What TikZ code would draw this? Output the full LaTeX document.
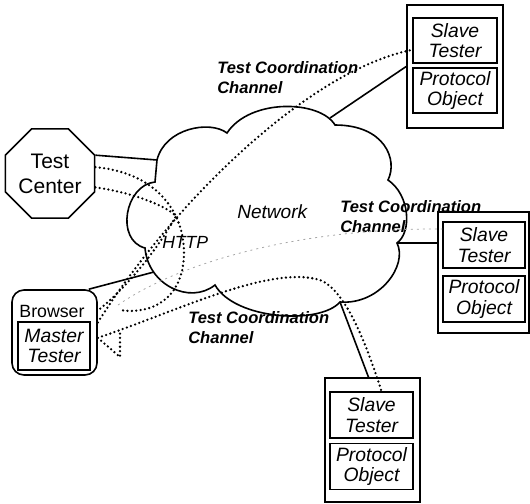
\documentclass[tikz,border=0pt]{standalone}
\usepackage{fontspec}
\setmainfont{Liberation Sans}
\usetikzlibrary{shapes.geometric}
\begin{document}
\begin{tikzpicture}[x=0.75pt,y=-0.75pt,
  solidline/.style={line width=1.2pt},
  dotline/.style={line width=1.9pt, dash pattern=on 0pt off 3.3pt, line cap=round},
  faintline/.style={line width=0.6pt, gray!70, dash pattern=on 1.5pt off 3pt},
  outerbox/.style={draw, line width=1.2pt, inner sep=0pt},
  innerbox/.style={draw, line width=1.1pt, inner sep=1pt, align=center, font=\fontsize{14.5pt}{15.5pt}\selectfont\itshape},
  chanlabel/.style={inner sep=0pt, anchor=north west, align=left, font=\fontsize{12.4pt}{15.5pt}\selectfont\bfseries\itshape},
]
\useasboundingbox (0,0) rectangle (530,503);

% cloud
\draw[line width=1.2pt] (155,182) .. controls (125,185) and (115,240) .. (145,248)
  .. controls (148,285) and (190,305) .. (215,285)
  .. controls (235,320) and (320,325) .. (340,302)
  .. controls (380,305) and (408,265) .. (397,243)
  .. controls (412,232) and (410,195) .. (388,180)
  .. controls (398,160) and (385,125) .. (335,125)
  .. controls (320,100) and (250,98) .. (227,133)
  .. controls (210,120) and (165,128) .. (157,160) -- cycle;
\coordinate (cTC) at (157,160);
\coordinate (cBR) at (154,272);
\coordinate (cS1) at (330,118);
\coordinate (cS2) at (397,243);
\coordinate (cS3) at (340,302);
\coordinate (tcend) at (120,310);
\coordinate (tri1) at (120,357);
\coordinate (tri2) at (120,329.5);
\coordinate (fstart) at (118,305);

% nodes
\node[regular polygon, regular polygon sides=8, draw, line width=1.2pt, minimum size=61.7pt, inner sep=0pt, align=center, font=\fontsize{15.75pt}{18.9pt}\selectfont] (tc) at (50,173.5) {Test\\Center};

\node[draw, line width=1.2pt, rounded corners=9pt, minimum width=63.75pt, minimum height=63.75pt] (br) at (54.5,332.5) {};
\node[anchor=base, inner sep=0pt, font=\fontsize{13.3pt}{16pt}\selectfont] (brt) at (52,317) {Browser};
\node[innerbox, minimum width=54pt, minimum height=36pt] (mt) at (54,346) {Master\\Tester};

\node[outerbox, minimum width=72pt, minimum height=92.25pt] (b1) at (455,66.5) {};
\node[innerbox, minimum width=63pt, minimum height=33.75pt] (st1) at (455,40.5) {Slave\\Tester};
\node[innerbox, minimum width=63pt, minimum height=33.75pt] (po1) at (455,90.5) {Protocol\\Object};

\node[outerbox, minimum width=68.25pt, minimum height=90.75pt] (b2) at (483.5,272.5) {};
\node[innerbox, minimum width=61.5pt, minimum height=34.5pt] (st2) at (484,245) {Slave\\Tester};
\node[innerbox, minimum width=61.5pt, minimum height=34.5pt] (po2) at (484,299) {Protocol\\Object};

\node[outerbox, minimum width=71.25pt, minimum height=93pt] (b3) at (372.5,440) {};
\node[innerbox, minimum width=62.25pt, minimum height=34.5pt] (st3) at (371.5,415) {Slave\\Tester};
\node[innerbox, minimum width=62.25pt, minimum height=34.5pt] (po3) at (371.5,466.5) {Protocol\\Object};

\node[chanlabel] (lab1) at (217,61) {Test Coordination\\Channel};
\node[chanlabel] (lab2) at (340,200) {Test Coordination\\Channel};
\node[chanlabel] (lab3) at (188,311) {Test Coordination\\Channel};
\node[anchor=base west, inner sep=0pt, font=\fontsize{14.3pt}{17pt}\selectfont\itshape] (net) at (237,218) {Network};
\node[anchor=base west, inner sep=0pt, font=\fontsize{13.2pt}{16pt}\selectfont\itshape] (http) at (162,248) {HTTP};

% solid connectors
\draw[solidline] (tc.22.5) -- (cTC);
\draw[solidline] ([xshift=-6.75pt]br.north east) -- (cBR);
\draw[solidline] (cS1) -- (b1.west);
\draw[solidline] (cS2) -- (b2.west |- cS2);
\draw[solidline] (cS3) -- ([xshift=-3pt]b3.north);

% dotted connectors
\draw[dotline] (tc.8) .. controls (150,172) and (182,205) .. (184,250) .. controls (185,300) and (150,315) .. (tcend);
\draw[dotline] (tc.-17) .. controls (130,192) and (165,205) .. (176,216) .. controls (160,245) and (130,285) .. ([yshift=16.5pt]br.east);
\draw[dotline] ([yshift=7.5pt]br.east) .. controls (175,200) and (310,70) .. ([yshift=-7pt]st1.west);
\draw[dotline] ([yshift=-4pt]br.east) .. controls (180,310) and (270,265) .. (320,280) .. controls (345,290) and (365,340) .. ([xshift=7.5pt]st3.north);
\draw[dotline] ([yshift=-4pt]br.east) -- (tri1) -- (tri2);
\draw[faintline] (fstart) .. controls (180,262) and (300,228) .. ([yshift=12pt]st2.west);
\end{tikzpicture}
\end{document}
